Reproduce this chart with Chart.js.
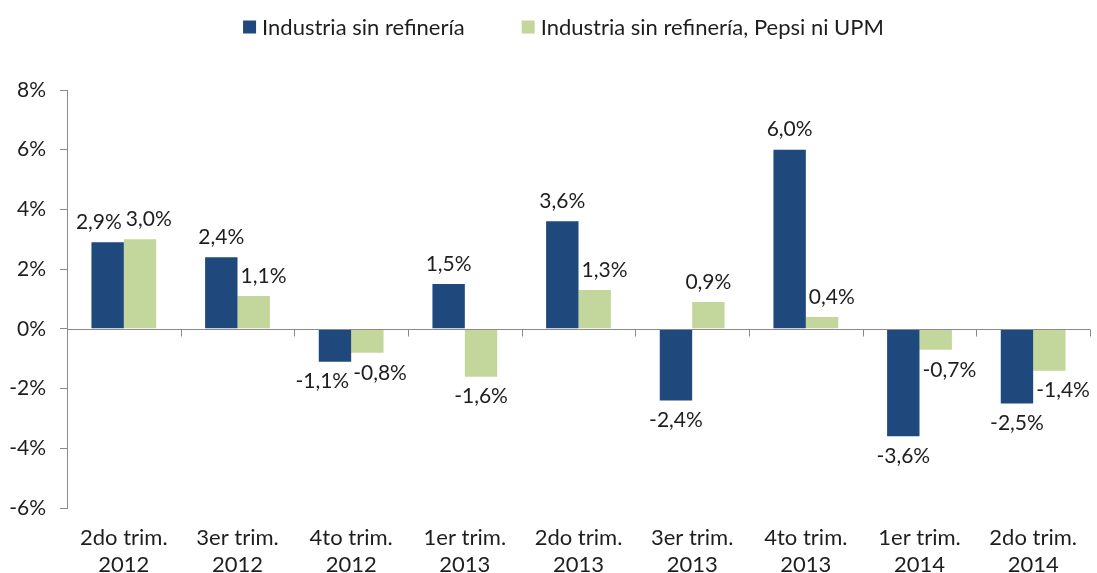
<!DOCTYPE html>
<html>
<head>
<meta charset="utf-8">
<script src="https://cdn.jsdelivr.net/npm/chart.js@4.4.1/dist/chart.umd.min.js"></script>
<style>
  html, body { margin: 0; padding: 0; background: #fff; }
  #wrap { width: 1097px; height: 573px; }
</style>
</head>
<body>
<div id="wrap"><canvas id="myBarChart"></canvas></div>
<script>
// Datos
const quarters = [
    ['2do trim.', '2012'], ['3er trim.', '2012'], ['4to trim.', '2012'],
    ['1er trim.', '2013'], ['2do trim.', '2013'], ['3er trim.', '2013'],
    ['4to trim.', '2013'], ['1er trim.', '2014'], ['2do trim.', '2014']
];
const industriaSinRefineria = [2.9, 2.4, -1.1, 1.5, 3.6, -2.4, 6.0, -3.6, -2.5];
const sinRefineriaPepsiUpm = [3.0, 1.1, -0.8, -1.6, 1.3, 0.9, 0.4, -0.7, -1.4];
const seriesNames = ['Industria sin refinería', 'Industria sin refinería, Pepsi ni UPM'];
const seriesColors = ['#1f497d', '#c3d69b'];
const yTicks = [-6, -4, -2, 0, 2, 4, 6, 8];

const axisColor = '#8a8a8a';
const textColor = '#1e1e1e';
const fontFamily = 'Lato, "Open Sans", sans-serif';

function fmt(v) {
    return v.toFixed(1).replace('.', ',') + '%';
}

// legend drawn by hand (Chart.js legend padding also grows the height)
const topLegend = {
    id: 'topLegend',
    afterDraw(chart) {
        const ctx = chart.ctx;
        const box = 13, boxGap = 6, itemGap = 57, cy = 27;
        ctx.save();
        ctx.font = '22px ' + fontFamily;
        ctx.textBaseline = 'middle';
        const widths = seriesNames.map(s => ctx.measureText(s).width);
        let total = 0;
        widths.forEach((w, i) => { total += box + boxGap + w + (i ? itemGap : 0); });
        let x = (chart.width - total) / 2 + 15;
        seriesNames.forEach((s, i) => {
            ctx.fillStyle = seriesColors[i];
            ctx.fillRect(x, cy - box / 2, box, box);
            x += box + boxGap;
            ctx.fillStyle = textColor;
            ctx.fillText(s, x, cy + 1);
            x += widths[i] + itemGap;
        });
        ctx.restore();
    }
};

// zero line + category tick marks on the zero line
const zeroAxis = {
    id: 'zeroAxis',
    afterDatasetsDraw(chart) {
        const ctx = chart.ctx;
        const x = chart.scales.x;
        const y0 = Math.round(chart.scales.y.getPixelForValue(0)) + 0.5;
        const n = quarters.length;
        ctx.save();
        ctx.strokeStyle = axisColor;
        ctx.lineWidth = 1;
        ctx.beginPath();
        ctx.moveTo(x.left, y0);
        ctx.lineTo(x.right, y0);
        for (let i = 1; i <= n; i++) {
            const px = Math.round(x.left + i * (x.right - x.left) / n) + 0.5;
            ctx.moveTo(px, y0);
            ctx.lineTo(px, y0 + 7);
        }
        ctx.stroke();
        ctx.restore();
    }
};

// value labels at the bar end; moved sideways when they hit the other bar or each other
const valueLabels = {
    id: 'valueLabels',
    afterDatasetsDraw(chart) {
        const ctx = chart.ctx;
        const y0 = chart.scales.y.getPixelForValue(0);
        const gap = 20, h = 18, clear = 3;
        ctx.save();
        ctx.font = '21px ' + fontFamily;
        ctx.fillStyle = textColor;
        ctx.textAlign = 'center';
        ctx.textBaseline = 'middle';
        for (let i = 0; i < quarters.length; i++) {
            const bars = chart.data.datasets.map((ds, d) => chart.getDatasetMeta(d).data[i]);
            const items = chart.data.datasets.map((ds, d) => {
                const v = ds.data[i];
                const text = fmt(v);
                return {
                    text: text,
                    x: bars[d].x,
                    y: v >= 0 ? bars[d].y - gap : bars[d].y + gap,
                    w: ctx.measureText(text).width
                };
            });
            items.forEach((it, d) => {
                const other = bars[1 - d];
                const top = Math.min(other.y, y0), bottom = Math.max(other.y, y0);
                if (it.y + h / 2 > top && it.y - h / 2 < bottom) {
                    const half = other.width / 2;
                    if (d === 1) {
                        it.x = Math.max(it.x, other.x + half + clear + it.w / 2);
                    } else {
                        it.x = Math.min(it.x, other.x - half - clear - it.w / 2);
                    }
                }
            });
            const a = items[0], b = items[1];
            if (Math.abs(a.y - b.y) < h + 4) {
                const overlap = (a.w / 2 + b.w / 2 + 4) - (b.x - a.x);
                if (overlap > 0) {
                    a.x -= overlap / 2;
                    b.x += overlap / 2;
                }
            }
            items.forEach(it => ctx.fillText(it.text, it.x, it.y));
        }
        ctx.restore();
    }
};

const ctxBar = document.getElementById('myBarChart').getContext('2d');
const myBarChart = new Chart(ctxBar, {
    type: 'bar',
    data: {
        labels: quarters,
        datasets: [{
            label: seriesNames[0],
            data: industriaSinRefineria,
            backgroundColor: seriesColors[0],
            borderWidth: 0
        }, {
            label: seriesNames[1],
            data: sinRefineriaPepsiUpm,
            backgroundColor: seriesColors[1],
            borderWidth: 0
        }]
    },
    plugins: [topLegend, zeroAxis, valueLabels],
    options: {
        responsive: true,
        maintainAspectRatio: false,
        animation: false,
        events: [],
        layout: {
            padding: { left: 0, right: 7, top: 90, bottom: 0 }
        },
        datasets: {
            bar: {
                categoryPercentage: 0.57,
                barPercentage: 1.0
            }
        },
        plugins: {
            legend: { display: false },
            tooltip: { enabled: false }
        },
        scales: {
            x: {
                grid: { display: false },
                border: { display: false },
                afterFit: axis => { axis.height = 65; },
                ticks: {
                    color: textColor,
                    font: { family: fontFamily, size: 22, lineHeight: 1.25 },
                    maxRotation: 0,
                    autoSkip: false,
                    padding: 8
                }
            },
            y: {
                min: -6,
                max: 8,
                afterBuildTicks: axis => {
                    axis.ticks = yTicks.map(v => ({ value: v }));
                },
                afterFit: axis => { axis.width = 67; },
                grid: {
                    drawOnChartArea: false,
                    drawTicks: true,
                    tickLength: 7,
                    color: axisColor
                },
                border: { display: true, color: axisColor },
                ticks: {
                    color: textColor,
                    font: { family: fontFamily, size: 21 },
                    padding: 14,
                    callback: v => v + '%'
                }
            }
        }
    }
});
</script>
</body>
</html>
